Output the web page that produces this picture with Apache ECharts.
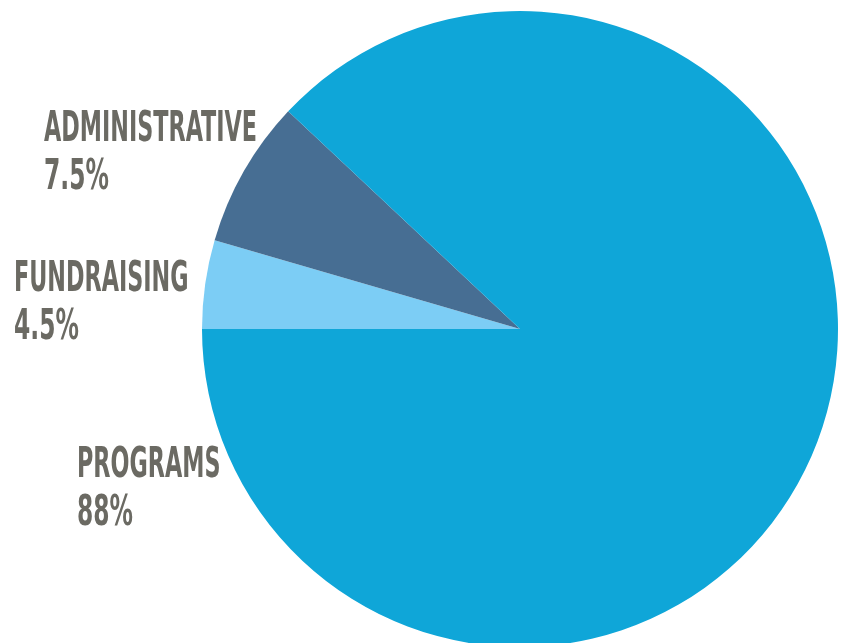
<!DOCTYPE html>
<html>
<head>
<meta charset="utf-8">
<script src="https://cdn.jsdelivr.net/npm/echarts@6/dist/echarts.min.js"></script>
<style>
html,body{margin:0;padding:0;background:#fff;}
#chart{width:843px;height:643px;}
</style>
</head>
<body>
<div id="chart"></div>
<script>
const categories = ['Fundraising', 'Administrative', 'Programs'];
const labelNames = ['FUNDRAISING', 'ADMINISTRATIVE', 'PROGRAMS'];
const values = [4.5, 7.5, 88];
const percentLabels = ['4.5%', '7.5%', '88%'];
const colors = ['#7CCDF5', '#476E93', '#0FA6D8'];

// label anchor positions (left, top of name line)
const labelPos = [[14, 259], [44, 109], [77, 445]];

const FONT = 'bold 30px "Liberation Sans Narrow", "DejaVu Sans Condensed", sans-serif';
// horizontal condensing so that "ADMINISTRATIVE" spans ~213px, like the reference's condensed face
const ctx = document.createElement('canvas').getContext('2d');
ctx.font = FONT;
const sx = Math.min(1, 213 / ctx.measureText('ADMINISTRATIVE').width);

const chart = echarts.init(document.getElementById('chart'));
const textColor = '#6B6A63';
const graphics = [];
categories.forEach((c, i) => {
  graphics.push({
    type: 'text', left: labelPos[i][0], top: labelPos[i][1], z: 100,
    scaleX: sx, scaleY: 1.4,
    style: { text: labelNames[i], font: FONT, fill: textColor }
  });
  graphics.push({
    type: 'text', left: labelPos[i][0], top: labelPos[i][1] + 48, z: 100,
    scaleX: sx * 1.05, scaleY: 1.4,
    style: { text: percentLabels[i], font: FONT, fill: textColor }
  });
});

chart.setOption({
  animation: false,
  backgroundColor: '#fff',
  graphic: graphics,
  series: [{
    type: 'pie',
    z: 1,
    center: [520, 329],
    radius: 318,
    startAngle: 180,
    clockwise: true,
    label: { show: false },
    labelLine: { show: false },
    itemStyle: { borderWidth: 0 },
    emphasis: { disabled: true },
    data: categories.map((c, i) => ({ name: c, value: values[i], itemStyle: { color: colors[i] } }))
  }]
});
</script>
</body>
</html>
